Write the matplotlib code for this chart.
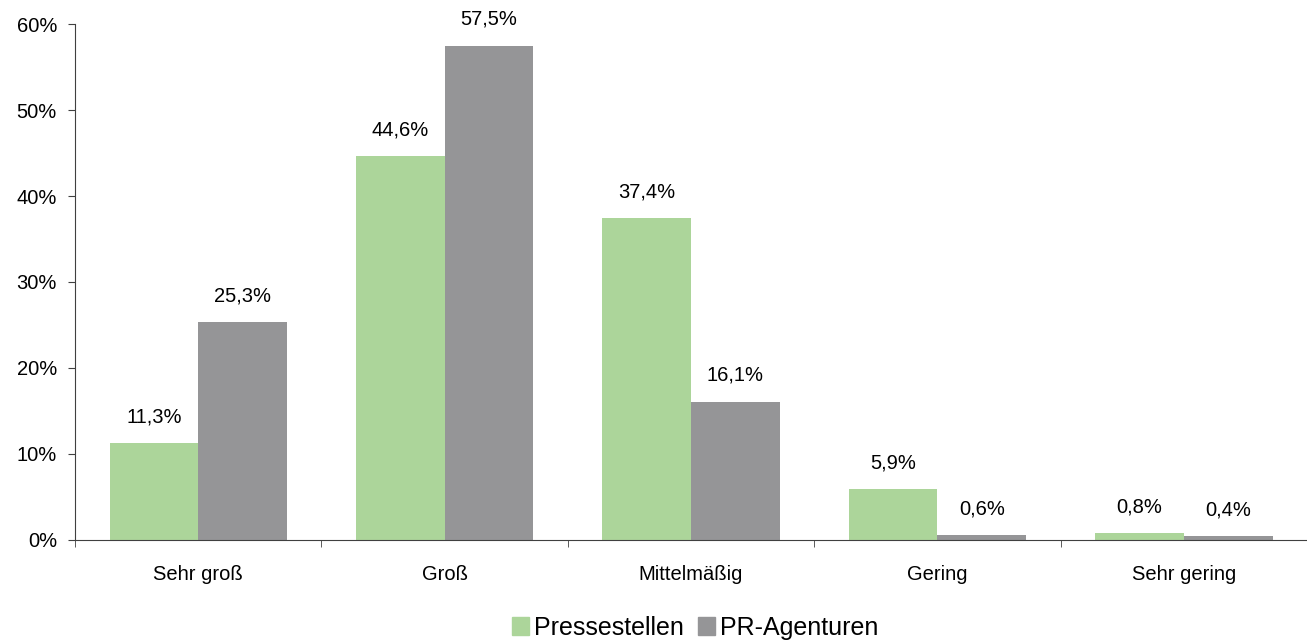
import matplotlib.pyplot as plt
import numpy as np
from matplotlib.patches import Patch

plt.rcParams['font.family'] = ['Liberation Sans', 'DejaVu Sans']

categories = ["Sehr groß", "Groß", "Mittelmäßig", "Gering", "Sehr gering"]
pressestellen = [11.3, 44.6, 37.4, 5.9, 0.8]
pr_agenturen = [25.3, 57.5, 16.1, 0.6, 0.4]
series_names = ["Pressestellen", "PR-Agenturen"]
y_ticks = [0, 10, 20, 30, 40, 50, 60]

green = "#acd59a"
gray = "#959597"
fs = 14.5

fig = plt.figure(figsize=(13.07, 6.42), dpi=100)
ax = fig.add_axes([0.0574, 0.159, 0.9426, 0.8035])

x = np.arange(len(categories))
w = 0.36
b1 = ax.bar(x - w / 2, pressestellen, w, color=green)
b2 = ax.bar(x + w / 2, pr_agenturen, w, color=gray)

for bars, vals in ((b1, pressestellen), (b2, pr_agenturen)):
    for rect, v in zip(bars, vals):
        ax.annotate(("%.1f%%" % v).replace(".", ","),
                    (rect.get_x() + rect.get_width() / 2, rect.get_height()),
                    xytext=(0, 12), textcoords="offset points",
                    ha="center", va="bottom", fontsize=fs)

ax.set_xlim(-0.5, len(categories) - 0.5)
ax.set_ylim(0, 60)
ax.set_yticks(y_ticks)
ax.set_yticklabels(["%d%%" % t for t in y_ticks])

# category labels centred, tick marks between groups
ax.set_xticks(x)
ax.set_xticklabels(categories)
ax.tick_params(axis="x", which="major", length=0, pad=18, labelsize=fs)
ax.set_xticks(np.arange(len(categories) + 1) - 0.5, minor=True)
ax.tick_params(axis="x", which="minor", length=5, color="#404040")
ax.tick_params(axis="y", length=5, color="#404040", labelsize=fs, pad=8)

for s in ("top", "right"):
    ax.spines[s].set_visible(False)
for s in ("left", "bottom"):
    ax.spines[s].set_color("#404040")

handles = [Patch(color=green), Patch(color=gray)]
fig.legend(handles, series_names, loc="center", bbox_to_anchor=(0.532, 0.022),
           ncol=2, frameon=False, fontsize=18, handlelength=0.7,
           handleheight=0.7, handletextpad=0.2, columnspacing=0.55,
           borderpad=0)

fig.savefig("out.png", dpi=100)
